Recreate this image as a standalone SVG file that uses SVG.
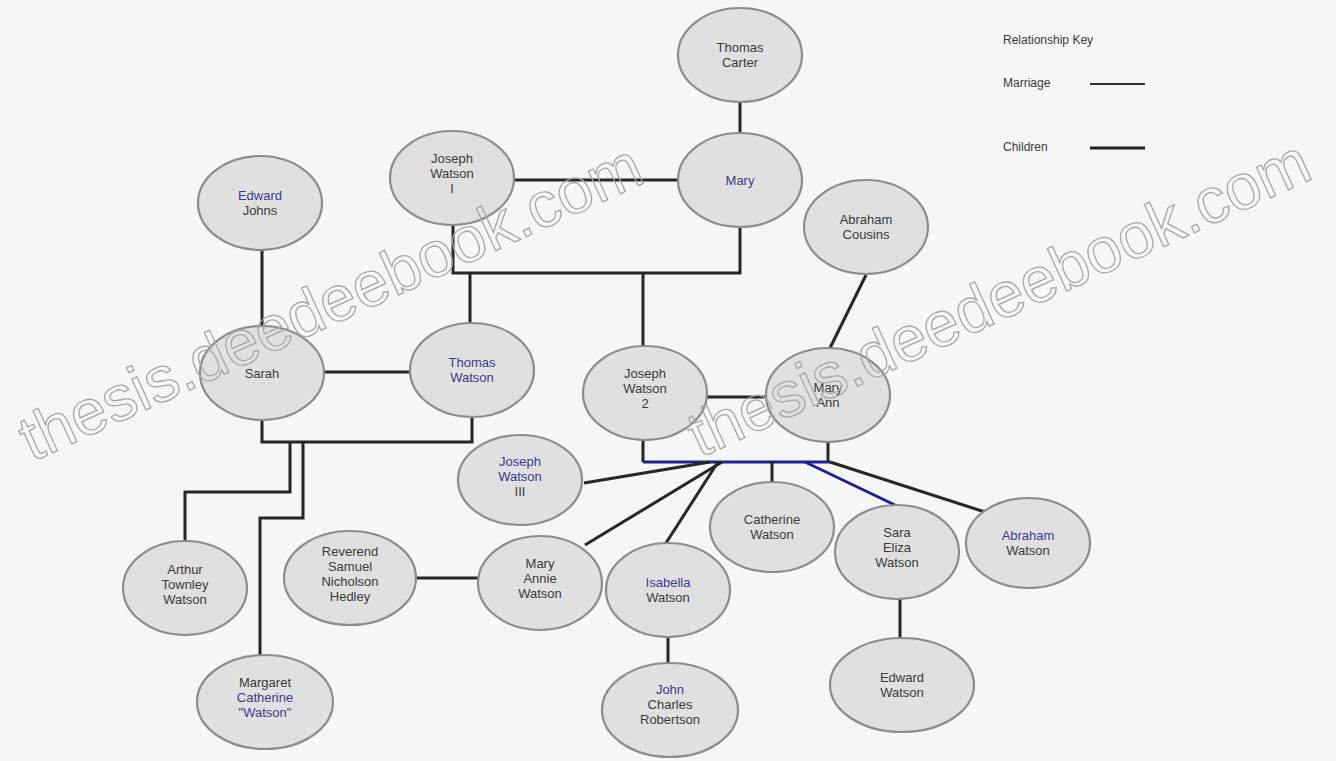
<svg xmlns="http://www.w3.org/2000/svg" width="1336" height="761" viewBox="0 0 1336 761">
<style>
.n ellipse{fill:#e0e0e0;stroke:#8c8c8c;stroke-width:2.2}
text{font-family:"Liberation Sans",Arial,sans-serif;font-size:13px;fill:#3a3a3a;text-anchor:middle}
.b{fill:#3d3a8c}
.c line,.c polyline{stroke:#262626;stroke-width:3;fill:none}
.c .blue{stroke:#1f1f90}
.wm{font-family:"Liberation Sans",Arial,sans-serif;font-size:64px;fill:none;stroke:#a8a8a8;stroke-width:1.3;text-anchor:start}
.key{text-anchor:start;font-size:12px}
</style>
<rect width="1336" height="761" fill="#f6f6f6"/>
<g class="c" id="connectors">
<line x1="740" y1="102" x2="740" y2="133"/>
<line x1="514" y1="180" x2="678" y2="180"/>
<polyline points="453,225 453,273 740,273 740,227"/>
<line x1="470" y1="273" x2="470" y2="323"/>
<line x1="643" y1="273" x2="643" y2="347"/>
<line x1="262" y1="250" x2="262" y2="325"/>
<line x1="324" y1="372" x2="410" y2="372"/>
<polyline points="262,420 262,442 472,442 472,417"/>
<polyline points="290,442 290,492 185,492 185,542"/>
<polyline points="303,442 303,518 260,518 260,655"/>
<line x1="866" y1="275" x2="830" y2="348"/>
<line x1="707" y1="397" x2="766" y2="397"/>
<line x1="643" y1="440" x2="643" y2="462"/>
<line x1="828" y1="442" x2="828" y2="462"/>
<line class="blue" x1="643" y1="462" x2="830" y2="462"/>
<line x1="710" y1="462" x2="584" y2="483"/>
<line x1="722" y1="462" x2="585" y2="545"/>
<line x1="718" y1="462" x2="666" y2="543"/>
<line x1="772" y1="462" x2="772" y2="482"/>
<line class="blue" x1="805" y1="462" x2="895" y2="505"/>
<line x1="830" y1="462" x2="985" y2="512"/>
<line x1="416" y1="578" x2="478" y2="578"/>
<line x1="668" y1="637" x2="668" y2="663"/>
<line x1="900" y1="598" x2="900" y2="638"/>
</g>
<g id="thomas-carter" class="n"><ellipse cx="740" cy="55" rx="62" ry="47"/><text x="740" y="52">Thomas</text><text x="740" y="67">Carter</text></g>
<g id="mary" class="n"><ellipse cx="740" cy="180" rx="62" ry="47"/><text class="b" x="740" y="185">Mary</text></g>
<g id="joseph-watson-1" class="n"><ellipse cx="452" cy="178" rx="62" ry="47"/><text x="452" y="163">Joseph</text><text x="452" y="178">Watson</text><text x="452" y="193">I</text></g>
<g id="edward-johns" class="n"><ellipse cx="260" cy="203" rx="62" ry="47"/><text class="b" x="260" y="200">Edward</text><text x="260" y="215">Johns</text></g>
<g id="sarah" class="n"><ellipse cx="262" cy="373" rx="62" ry="47"/><text x="262" y="378">Sarah</text></g>
<g id="thomas-watson" class="n"><ellipse cx="472" cy="370" rx="62" ry="47"/><text class="b" x="472" y="367">Thomas</text><text class="b" x="472" y="382">Watson</text></g>
<g id="abraham-cousins" class="n"><ellipse cx="866" cy="227" rx="62" ry="47"/><text x="866" y="224">Abraham</text><text x="866" y="239">Cousins</text></g>
<g id="joseph-watson-2" class="n"><ellipse cx="645" cy="393" rx="62" ry="47"/><text x="645" y="378">Joseph</text><text x="645" y="393">Watson</text><text x="645" y="408">2</text></g>
<g id="mary-ann" class="n"><ellipse cx="828" cy="395" rx="62" ry="47"/><text x="828" y="392">Mary</text><text x="828" y="407">Ann</text></g>
<g id="joseph-watson-3" class="n"><ellipse cx="520" cy="480" rx="62" ry="45"/><text class="b" x="520" y="466">Joseph</text><text class="b" x="520" y="481">Watson</text><text x="520" y="496">III</text></g>
<g id="catherine-watson" class="n"><ellipse cx="772" cy="527" rx="62" ry="45"/><text x="772" y="524">Catherine</text><text x="772" y="539">Watson</text></g>
<g id="sara-eliza-watson" class="n"><ellipse cx="897" cy="552" rx="62" ry="47"/><text x="897" y="537">Sara</text><text x="897" y="552">Eliza</text><text x="897" y="567">Watson</text></g>
<g id="abraham-watson" class="n"><ellipse cx="1028" cy="543" rx="62" ry="45"/><text class="b" x="1028" y="540">Abraham</text><text x="1028" y="555">Watson</text></g>
<g id="edward-watson" class="n"><ellipse cx="902" cy="685" rx="72" ry="47"/><text x="902" y="682">Edward</text><text x="902" y="697">Watson</text></g>
<g id="arthur-townley-watson" class="n"><ellipse cx="185" cy="588" rx="62" ry="47"/><text x="185" y="574">Arthur</text><text x="185" y="589">Townley</text><text x="185" y="604">Watson</text></g>
<g id="reverend-samuel" class="n"><ellipse cx="350" cy="578" rx="66" ry="47"/><text x="350" y="556">Reverend</text><text x="350" y="571">Samuel</text><text x="350" y="586">Nicholson</text><text x="350" y="601">Hedley</text></g>
<g id="mary-annie-watson" class="n"><ellipse cx="540" cy="583" rx="62" ry="47"/><text x="540" y="568">Mary</text><text x="540" y="583">Annie</text><text x="540" y="598">Watson</text></g>
<g id="isabella-watson" class="n"><ellipse cx="668" cy="590" rx="62" ry="47"/><text class="b" x="668" y="587">Isabella</text><text x="668" y="602">Watson</text></g>
<g id="john-charles-robertson" class="n"><ellipse cx="670" cy="710" rx="68" ry="47"/><text class="b" x="670" y="694">John</text><text x="670" y="709">Charles</text><text x="670" y="724">Robertson</text></g>
<g id="margaret-catherine-watson" class="n"><ellipse cx="265" cy="702" rx="68" ry="47"/><text x="265" y="687">Margaret</text><text class="b" x="265" y="702">Catherine</text><text class="b" x="265" y="717">"Watson"</text></g>
<g id="key">
<text class="key" x="1003" y="44">Relationship Key</text>
<text class="key" x="1003" y="87">Marriage</text>
<line x1="1090" y1="84" x2="1145" y2="84" stroke="#333" stroke-width="2"/>
<text class="key" x="1003" y="151">Children</text>
<line x1="1090" y1="148" x2="1145" y2="148" stroke="#222" stroke-width="3"/>
</g>
<g id="watermark">
<text class="wm" transform="translate(32,462) rotate(-24.5)">thesis.deedeebook.com</text>
<text class="wm" transform="translate(700,458) rotate(-24.5)">thesis.deedeebook.com</text>
</g>
</svg>
